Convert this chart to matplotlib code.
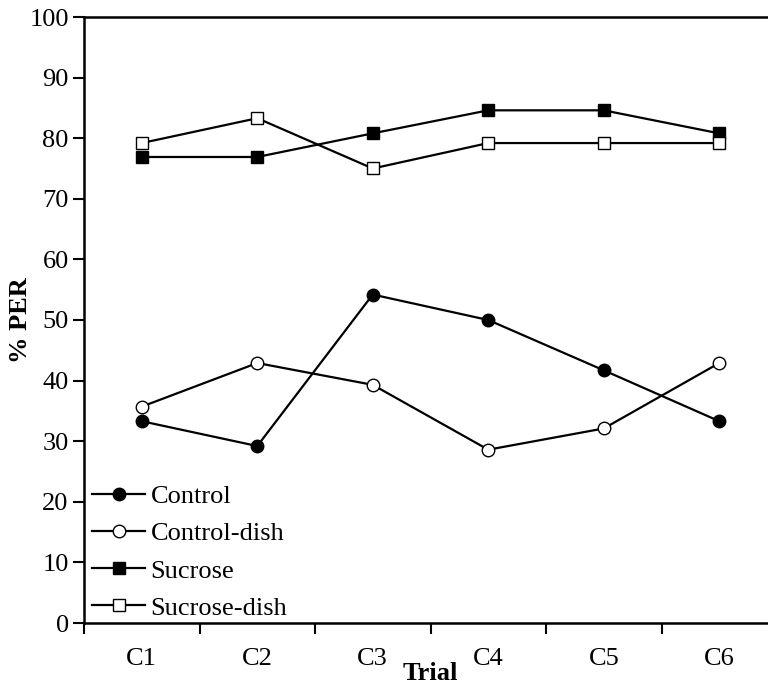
import matplotlib.pyplot as plt
import numpy as np

trials = ['C1', 'C2', 'C3', 'C4', 'C5', 'C6']
control = [33.3, 29.2, 54.2, 50.0, 41.7, 33.3]
control_dish = [35.7, 42.9, 39.3, 28.6, 32.1, 42.9]
sucrose = [76.9, 76.9, 80.8, 84.6, 84.6, 80.8]
sucrose_dish = [79.2, 83.3, 75.0, 79.2, 79.2, 79.2]

plt.rcParams['font.family'] = ['Liberation Serif', 'DejaVu Serif']

fig = plt.figure(figsize=(7.68, 6.84), dpi=100)
ax = fig.add_axes([84 / 768, 61 / 684, 693 / 768, 606 / 684])

x = np.arange(1, len(trials) + 1)
ms = 9
ax.plot(x, control, 'k-', marker='o', ms=ms, mfc='black', lw=1.6, label='Control')
ax.plot(x, control_dish, 'k-', marker='o', ms=ms, mfc='white', lw=1.6, label='Control-dish')
ax.plot(x, sucrose, 'k-', marker='s', ms=ms, mfc='black', lw=1.6, label='Sucrose')
ax.plot(x, sucrose_dish, 'k-', marker='s', ms=ms, mfc='white', lw=1.6, label='Sucrose-dish')

ax.set_xlim(0.5, 6.5)
ax.set_ylim(0, 100)
ax.set_yticks(range(0, 101, 10))
ax.set_xticks(np.arange(0.5, 7, 1))
ax.set_xticklabels([])
ax.set_xticks(x, minor=True)
ax.set_xticklabels(trials, minor=True)
ax.tick_params(axis='x', which='minor', length=0, pad=18, labelsize=19)
ax.tick_params(axis='x', which='major', direction='out', length=8, width=1.5)
ax.tick_params(axis='y', direction='out', length=8, width=1.5, labelsize=19, pad=3)

ax.spines['right'].set_visible(False)
for s in ['left', 'bottom', 'top']:
    ax.spines[s].set_linewidth(1.8)

ax.set_ylabel('% PER', fontsize=19, fontweight='bold', labelpad=-2)
ax.set_xlabel('Trial', fontsize=19, fontweight='bold', labelpad=-6)

ax.legend(loc='lower left', frameon=False, fontsize=19, handlelength=2.0,
          handletextpad=0.2, labelspacing=0.52, borderaxespad=0.0,
          bbox_to_anchor=(-0.003, -0.012))

fig.savefig('out.png', dpi=100)
